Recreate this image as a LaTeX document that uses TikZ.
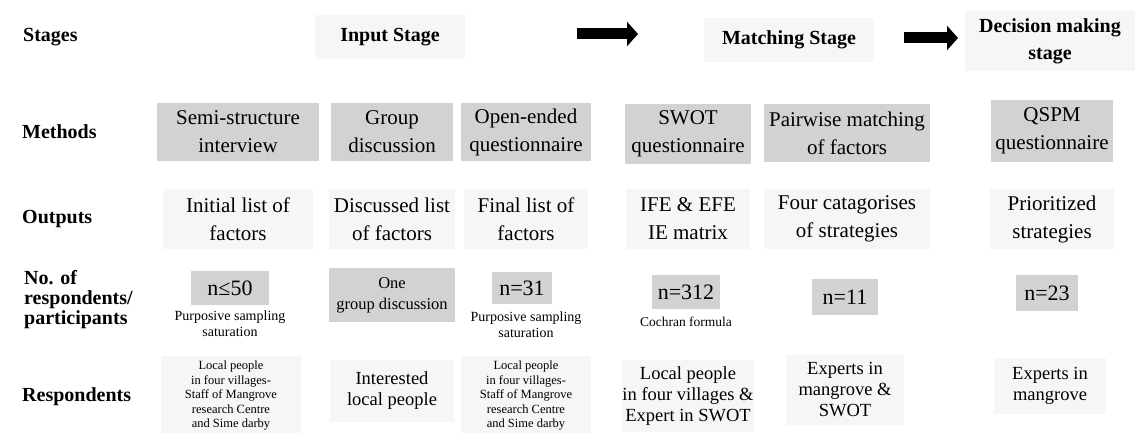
\documentclass[tikz,border=0pt]{standalone}
\usepackage{fontspec}
\setmainfont{Liberation Serif}
\usetikzlibrary{arrows.meta}
\definecolor{boxgray}{RGB}{210,210,210}
\definecolor{softgray}{RGB}{246,246,246}
\tikzset{
  lbl/.style={font=\fontsize{20}{21}\selectfont\bfseries, anchor=west, align=left, inner sep=0pt},
  hdr/.style={font=\fontsize{20}{27}\selectfont\bfseries, align=center, inner sep=0pt},
  meth/.style={fill=boxgray, font=\fontsize{21}{28}\selectfont, align=center, inner sep=0pt},
  outp/.style={fill=softgray, font=\fontsize{21}{28}\selectfont, align=center, inner sep=0pt},
  nbox/.style={fill=boxgray, font=\fontsize{22}{26}\selectfont, align=center, inner sep=0pt},
  note/.style={font=\fontsize{14}{16}\selectfont, align=center, inner sep=0pt},
  resp/.style={fill=softgray, font=\fontsize{12.5}{14.5}\selectfont, align=center, inner sep=0pt},
  respb/.style={fill=softgray, font=\fontsize{18.5}{21}\selectfont, align=center, inner sep=0pt},
  blockarrow/.style={line width=11pt, -{Triangle[length=11pt,width=24pt]}},
}
\begin{document}
\begin{tikzpicture}[x=1pt,y=-1pt]
\useasboundingbox (0,0) rectangle (1146,433);
\fill[white] (0,0) rectangle (1146,433);

% row labels
\node[lbl] (lstages) at (23,37) {Stages};
\node[lbl] (lmeth) at (22,132) {Methods};
\node[lbl] (lout) at (22,219) {Outputs};
\node[lbl, font=\fontsize{20}{20}\selectfont\bfseries] (lno) at (24,300) {No. of\\respondents/\\participants};
\node[lbl] (lresp) at (22,397) {Respondents};

% stage headers
\node[hdr, fill=softgray, minimum width=150pt, minimum height=44pt] (hin) at (390,37) {Input Stage};
\node[hdr, fill=softgray, minimum width=170pt, minimum height=44pt] (hmatch) at (789,40) {Matching Stage};
\node[hdr, fill=softgray, minimum width=170pt, minimum height=60pt] (hdec) at (1050,41) {Decision making\\stage};
\coordinate (a1s) at (577,34);
\coordinate (a1e) at (638,34);
\coordinate (a2s) at (904,38);
\coordinate (a2e) at (958,38);
\draw[blockarrow] (a1s) -- (a1e);
\draw[blockarrow] (a2s) -- (a2e);

% methods
\node[meth, minimum width=162pt, minimum height=58pt] (m1) at (238,132) {Semi-structure\\interview};
\node[meth, minimum width=122pt, minimum height=58pt] (m2) at (392,132) {Group\\discussion};
\node[meth, minimum width=130pt, minimum height=58pt] (m3) at (526,132) {Open-ended\\questionnaire};
\node[meth, minimum width=126pt, minimum height=60pt] (m4) at (688,134) {SWOT\\questionnaire};
\node[meth, minimum width=166pt, minimum height=58pt] (m5) at (847,133) {Pairwise matching\\of factors};
\node[meth, minimum width=122pt, minimum height=62pt] (m6) at (1052,131) {QSPM\\questionnaire};

% outputs
\node[outp, minimum width=150pt, minimum height=60pt] (o1) at (238,219) {Initial list of\\factors};
\node[outp, minimum width=126pt, minimum height=60pt] (o2) at (392,219) {Discussed list\\of factors};
\node[outp, minimum width=124pt, minimum height=60pt] (o3) at (526,219) {Final list of\\factors};
\node[outp, minimum width=124pt, minimum height=60pt] (o4) at (688,219) {IFE \& EFE\\IE matrix};
\node[outp, minimum width=166pt, minimum height=60pt] (o5) at (847,219) {Four catagorises\\of strategies};
\node[outp, minimum width=124pt, minimum height=60pt] (o6) at (1052,219) {Prioritized\\strategies};

% numbers
\node[nbox, minimum width=78pt, minimum height=34pt] (n1) at (230,288) {n≤50};
\node[note] (s1) at (230,324) {Purposive sampling\\saturation};
\node[nbox, font=\fontsize{16.5}{21}\selectfont, minimum width=126pt, minimum height=54pt] (n2) at (392,295) {One\\group discussion};
\node[nbox, minimum width=60pt, minimum height=32pt] (n3) at (522,288) {n=31};
\node[note] (s3) at (526,325) {Purposive sampling\\saturation};
\node[nbox, minimum width=68pt, minimum height=34pt] (n4) at (686,292) {n=312};
\node[note, font=\fontsize{13.5}{16}\selectfont] (s4) at (686,322) {Cochran formula};
\node[nbox, minimum width=66pt, minimum height=36pt] (n5) at (845,297) {n=11};
\node[nbox, minimum width=62pt, minimum height=36pt] (n6) at (1047,293) {n=23};

% respondents
\node[resp, minimum width=140pt, minimum height=80pt] (r1) at (231,396) {Local people\\in four villages-\\Staff of Mangrove\\research Centre\\and Sime darby};
\node[respb, minimum width=124pt, minimum height=62pt] (r2) at (392,391) {Interested\\local people};
\node[resp, minimum width=130pt, minimum height=80pt] (r3) at (526,396) {Local people\\in four villages-\\Staff of Mangrove\\research Centre\\and Sime darby};
\node[respb, minimum width=130pt, minimum height=72pt] (r4) at (688,396) {Local people\\in four villages \&\\Expert in SWOT};
\node[respb, minimum width=118pt, minimum height=70pt] (r5) at (845,390) {Experts in\\mangrove \&\\SWOT};
\node[respb, minimum width=112pt, minimum height=56pt] (r6) at (1050,386) {Experts in\\mangrove};
\end{tikzpicture}
\end{document}
